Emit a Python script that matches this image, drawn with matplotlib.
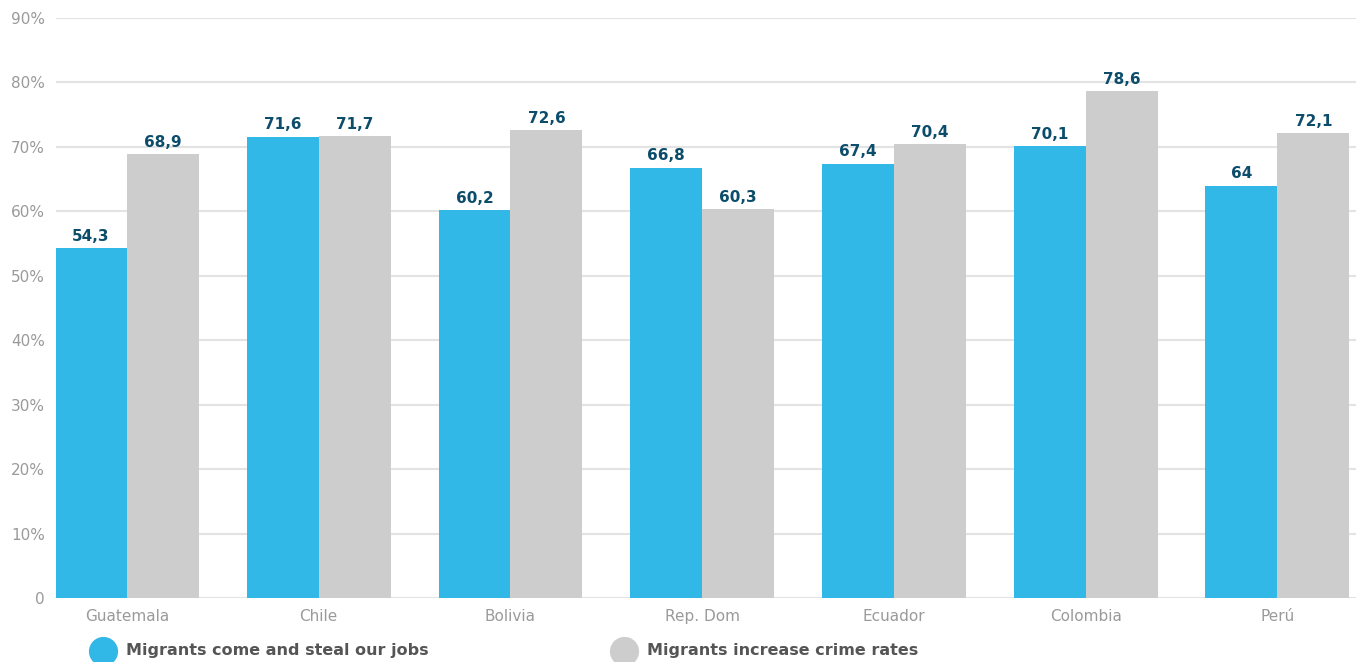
import matplotlib.pyplot as plt
import numpy as np
from matplotlib.lines import Line2D

countries = ["Guatemala", "Chile", "Bolivia", "Rep. Dom", "Ecuador", "Colombia", "Perú"]
jobs = [54.3, 71.6, 60.2, 66.8, 67.4, 70.1, 64]
crime = [68.9, 71.7, 72.6, 60.3, 70.4, 78.6, 72.1]
series_names = ["Migrants come and steal our jobs", "Migrants increase crime rates"]

blue = "#31b8e6"
gray = "#cdcdcd"
label_col = "#0c4d6b"
tick_col = "#9a9a9a"

plt.rcParams['font.family'] = ['DejaVu Sans']

fig = plt.figure(figsize=(13.56, 6.62), dpi=100)
ax = fig.add_axes([56 / 1356, 64 / 662, 1300 / 1356, 580 / 662])

x = np.arange(len(countries))
w = 0.375
b1 = ax.bar(x - w / 2, jobs, w, color=blue, zorder=3)
b2 = ax.bar(x + w / 2, crime, w, color=gray, zorder=3)

def fmt(v):
    s = ("%g" % v).replace(".", ",")
    return s

for bars, vals in [(b1, jobs), (b2, crime)]:
    ax.bar_label(bars, labels=[fmt(v) for v in vals], padding=3,
                 color=label_col, fontsize=11, fontweight="bold")

ax.set_xlim(-0.37, 6.41)
ax.set_ylim(0, 90)
ax.set_yticks(range(0, 91, 10))
ax.set_yticklabels(["0"] + ["%d%%" % v for v in range(10, 91, 10)])
ax.set_xticks(x)
ax.set_xticklabels(countries)
ax.tick_params(axis="both", length=0, colors=tick_col, labelsize=11)
ax.tick_params(axis="y", pad=8)
ax.tick_params(axis="x", pad=8)
ax.grid(axis="y", color="#e3e3e3", linewidth=1.5, zorder=0)
for s in ax.spines.values():
    s.set_visible(False)

# legend
for cx, col, name in [(103, blue, series_names[0]), (624, gray, series_names[1])]:
    fig.add_artist(Line2D([cx / 1356], [1 - 651 / 662], marker="o", markersize=20,
                          color=col, linestyle="none", transform=fig.transFigure))
    fig.text((cx + 23) / 1356, 1 - 651 / 662, name, fontsize=11.5, fontweight="bold",
             color="#555555", va="center", ha="left")

fig.savefig("out.png", dpi=100)
